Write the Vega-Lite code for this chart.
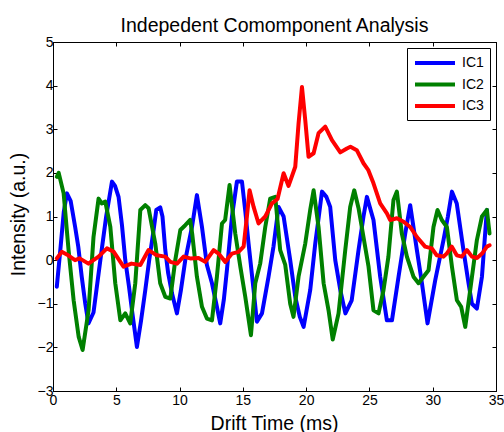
{
"$schema":"https://vega.github.io/schema/vega-lite/v6.json",
"width":443,"height":349,
"autosize":{"type":"none"},
"padding":{"left":53,"top":42,"right":8,"bottom":41},
"background":"white",
"title":{"text":"Indepedent Comomponent Analysis","font":"Liberation Sans","fontSize":19.5,"fontWeight":"normal","color":"black","offset":-16,"baseline":"alphabetic"},
"datasets":{
"ic":[
{"s":"IC1","t":0.3,"v":-0.61},{"s":"IC1","t":0.6,"v":0.3},{"s":"IC1","t":0.85,"v":1.1},{"s":"IC1","t":1.1,"v":1.53},{"s":"IC1","t":1.4,"v":1.35},{"s":"IC1","t":1.75,"v":0.76},{"s":"IC1","t":2.0,"v":0.3},{"s":"IC1","t":2.27,"v":-0.38},{"s":"IC1","t":2.55,"v":-1.0},{"s":"IC1","t":2.8,"v":-1.45},{"s":"IC1","t":3.2,"v":-1.2},{"s":"IC1","t":3.74,"v":0},{"s":"IC1","t":4.2,"v":1.0},{"s":"IC1","t":4.66,"v":1.8},{"s":"IC1","t":4.9,"v":1.7},{"s":"IC1","t":5.18,"v":1.45},{"s":"IC1","t":5.45,"v":0.8},{"s":"IC1","t":5.71,"v":0},{"s":"IC1","t":6.0,"v":-0.6},{"s":"IC1","t":6.24,"v":-1.15},{"s":"IC1","t":6.63,"v":-1.99},{"s":"IC1","t":6.95,"v":-1.4},{"s":"IC1","t":7.29,"v":-0.69},{"s":"IC1","t":7.6,"v":0},{"s":"IC1","t":7.95,"v":0.69},{"s":"IC1","t":8.16,"v":1.15},{"s":"IC1","t":8.47,"v":1.21},{"s":"IC1","t":8.65,"v":1.0},{"s":"IC1","t":8.87,"v":0.23},{"s":"IC1","t":9.1,"v":-0.3},{"s":"IC1","t":9.4,"v":-0.76},{"s":"IC1","t":9.79,"v":-1.22},{"s":"IC1","t":10.1,"v":-0.7},{"s":"IC1","t":10.45,"v":0},{"s":"IC1","t":10.98,"v":0.76},{"s":"IC1","t":11.37,"v":1.49},{"s":"IC1","t":11.77,"v":0.76},{"s":"IC1","t":12.16,"v":-0.11},{"s":"IC1","t":12.56,"v":-0.53},{"s":"IC1","t":12.9,"v":-1.0},{"s":"IC1","t":13.21,"v":-1.45},{"s":"IC1","t":13.5,"v":-0.9},{"s":"IC1","t":13.74,"v":-0.23},{"s":"IC1","t":14.14,"v":1.0},{"s":"IC1","t":14.53,"v":1.8},{"s":"IC1","t":14.93,"v":1.8},{"s":"IC1","t":15.2,"v":1.1},{"s":"IC1","t":15.45,"v":0.38},{"s":"IC1","t":15.85,"v":-0.69},{"s":"IC1","t":16.11,"v":-1.41},{"s":"IC1","t":16.51,"v":-1.22},{"s":"IC1","t":17.03,"v":-0.38},{"s":"IC1","t":17.42,"v":0.31},{"s":"IC1","t":17.82,"v":1.22},{"s":"IC1","t":18.22,"v":1.0},{"s":"IC1","t":18.74,"v":0},{"s":"IC1","t":19.14,"v":-0.84},{"s":"IC1","t":19.5,"v":-1.3},{"s":"IC1","t":19.8,"v":-1.53},{"s":"IC1","t":20.32,"v":-0.69},{"s":"IC1","t":20.72,"v":0.38},{"s":"IC1","t":21.0,"v":1.0},{"s":"IC1","t":21.25,"v":1.57},{"s":"IC1","t":21.6,"v":1.45},{"s":"IC1","t":21.9,"v":1.22},{"s":"IC1","t":22.3,"v":0},{"s":"IC1","t":22.7,"v":-0.69},{"s":"IC1","t":23.1,"v":-1.22},{"s":"IC1","t":23.6,"v":-0.92},{"s":"IC1","t":24.14,"v":0.23},{"s":"IC1","t":24.53,"v":1.0},{"s":"IC1","t":24.8,"v":1.45},{"s":"IC1","t":25.32,"v":0.92},{"s":"IC1","t":25.85,"v":-0.38},{"s":"IC1","t":26.38,"v":-1.38},{"s":"IC1","t":26.78,"v":-1.38},{"s":"IC1","t":27.3,"v":-0.38},{"s":"IC1","t":27.83,"v":0.61},{"s":"IC1","t":28.22,"v":1.26},{"s":"IC1","t":28.75,"v":0.23},{"s":"IC1","t":29.15,"v":-0.53},{"s":"IC1","t":29.59,"v":-1.45},{"s":"IC1","t":30.2,"v":-0.46},{"s":"IC1","t":30.85,"v":0.46},{"s":"IC1","t":31.2,"v":1.0},{"s":"IC1","t":31.52,"v":1.57},{"s":"IC1","t":31.9,"v":1.3},{"s":"IC1","t":32.43,"v":0.23},{"s":"IC1","t":32.83,"v":-0.53},{"s":"IC1","t":33.1,"v":-1.0},{"s":"IC1","t":33.49,"v":-1.11},{"s":"IC1","t":33.89,"v":-0.38},{"s":"IC1","t":34.28,"v":1.15},
{"s":"IC2","t":0.3,"v":1.91},{"s":"IC2","t":0.45,"v":2.0},{"s":"IC2","t":0.84,"v":1.53},{"s":"IC2","t":1.23,"v":0.23},{"s":"IC2","t":1.63,"v":-0.92},{"s":"IC2","t":2.03,"v":-1.76},{"s":"IC2","t":2.34,"v":-2.06},{"s":"IC2","t":2.81,"v":-1.15},{"s":"IC2","t":3.2,"v":0.53},{"s":"IC2","t":3.6,"v":1.41},{"s":"IC2","t":3.85,"v":1.3},{"s":"IC2","t":4.13,"v":1.34},{"s":"IC2","t":4.53,"v":0.76},{"s":"IC2","t":4.92,"v":-0.53},{"s":"IC2","t":5.32,"v":-1.38},{"s":"IC2","t":5.71,"v":-1.22},{"s":"IC2","t":6.1,"v":-1.45},{"s":"IC2","t":6.5,"v":-0.53},{"s":"IC2","t":6.9,"v":1.15},{"s":"IC2","t":7.29,"v":1.26},{"s":"IC2","t":7.55,"v":1.19},{"s":"IC2","t":8.08,"v":0.38},{"s":"IC2","t":8.47,"v":-0.53},{"s":"IC2","t":8.87,"v":-0.84},{"s":"IC2","t":9.27,"v":-0.88},{"s":"IC2","t":9.66,"v":0},{"s":"IC2","t":10.06,"v":0.69},{"s":"IC2","t":10.45,"v":0.8},{"s":"IC2","t":10.84,"v":0.92},{"s":"IC2","t":11.0,"v":0.6},{"s":"IC2","t":11.37,"v":-0.38},{"s":"IC2","t":11.77,"v":-1.07},{"s":"IC2","t":12.16,"v":-1.34},{"s":"IC2","t":12.56,"v":-1.38},{"s":"IC2","t":12.95,"v":-0.38},{"s":"IC2","t":13.35,"v":0.84},{"s":"IC2","t":13.6,"v":0.92},{"s":"IC2","t":13.95,"v":1.72},{"s":"IC2","t":14.4,"v":0.61},{"s":"IC2","t":14.8,"v":-0.15},{"s":"IC2","t":15.19,"v":-0.84},{"s":"IC2","t":15.64,"v":-1.72},{"s":"IC2","t":15.98,"v":-0.53},{"s":"IC2","t":16.37,"v":-0.08},{"s":"IC2","t":16.77,"v":0.76},{"s":"IC2","t":17.16,"v":1.41},{"s":"IC2","t":17.56,"v":1.45},{"s":"IC2","t":17.95,"v":0.23},{"s":"IC2","t":18.35,"v":-0.11},{"s":"IC2","t":18.74,"v":-1.0},{"s":"IC2","t":19.0,"v":-1.3},{"s":"IC2","t":19.4,"v":-0.38},{"s":"IC2","t":19.93,"v":0.38},{"s":"IC2","t":20.32,"v":1.15},{"s":"IC2","t":20.59,"v":1.6},{"s":"IC2","t":20.98,"v":0.76},{"s":"IC2","t":21.38,"v":-0.53},{"s":"IC2","t":21.77,"v":-1.15},{"s":"IC2","t":22.1,"v":-1.82},{"s":"IC2","t":22.56,"v":-1.22},{"s":"IC2","t":23.09,"v":0.23},{"s":"IC2","t":23.48,"v":1.22},{"s":"IC2","t":23.8,"v":1.6},{"s":"IC2","t":24.14,"v":1.19},{"s":"IC2","t":24.53,"v":0.53},{"s":"IC2","t":24.93,"v":-0.15},{"s":"IC2","t":25.32,"v":-1.15},{"s":"IC2","t":25.72,"v":-1.22},{"s":"IC2","t":26.11,"v":-0.69},{"s":"IC2","t":26.5,"v":0.08},{"s":"IC2","t":26.9,"v":1.38},{"s":"IC2","t":27.17,"v":1.57},{"s":"IC2","t":27.56,"v":0.61},{"s":"IC2","t":27.96,"v":0.08},{"s":"IC2","t":28.48,"v":-0.38},{"s":"IC2","t":28.88,"v":-0.53},{"s":"IC2","t":29.27,"v":-0.38},{"s":"IC2","t":29.67,"v":-0.23},{"s":"IC2","t":30.06,"v":0.76},{"s":"IC2","t":30.38,"v":1.15},{"s":"IC2","t":30.72,"v":0.92},{"s":"IC2","t":31.12,"v":0.76},{"s":"IC2","t":31.52,"v":-0.15},{"s":"IC2","t":31.91,"v":-0.92},{"s":"IC2","t":32.25,"v":-1.07},{"s":"IC2","t":32.57,"v":-1.53},{"s":"IC2","t":32.96,"v":-0.69},{"s":"IC2","t":33.49,"v":0.46},{"s":"IC2","t":33.89,"v":1.0},{"s":"IC2","t":34.28,"v":1.15},{"s":"IC2","t":34.49,"v":0.61},
{"s":"IC3","t":0.3,"v":0.04},{"s":"IC3","t":0.69,"v":0.19},{"s":"IC3","t":1.2,"v":0.11},{"s":"IC3","t":1.74,"v":0},{"s":"IC3","t":2.1,"v":0.04},{"s":"IC3","t":2.8,"v":-0.08},{"s":"IC3","t":3.6,"v":0.08},{"s":"IC3","t":4.26,"v":0.27},{"s":"IC3","t":4.8,"v":0.19},{"s":"IC3","t":5.57,"v":-0.15},{"s":"IC3","t":6.2,"v":-0.08},{"s":"IC3","t":6.9,"v":-0.11},{"s":"IC3","t":7.55,"v":0.23},{"s":"IC3","t":8.2,"v":0.11},{"s":"IC3","t":8.87,"v":0.08},{"s":"IC3","t":9.27,"v":-0.04},{"s":"IC3","t":9.8,"v":-0.08},{"s":"IC3","t":10.32,"v":0.08},{"s":"IC3","t":10.84,"v":0.04},{"s":"IC3","t":11.5,"v":0.05},{"s":"IC3","t":12.03,"v":-0.04},{"s":"IC3","t":12.69,"v":0.23},{"s":"IC3","t":13.08,"v":0.15},{"s":"IC3","t":13.61,"v":-0.04},{"s":"IC3","t":14.14,"v":0.15},{"s":"IC3","t":14.66,"v":0.19},{"s":"IC3","t":15.06,"v":0.31},{"s":"IC3","t":15.32,"v":1.0},{"s":"IC3","t":15.53,"v":1.6},{"s":"IC3","t":15.85,"v":1.22},{"s":"IC3","t":16.24,"v":0.84},{"s":"IC3","t":16.77,"v":1.0},{"s":"IC3","t":17.3,"v":1.3},{"s":"IC3","t":17.74,"v":1.4},{"s":"IC3","t":18.22,"v":1.99},{"s":"IC3","t":18.61,"v":1.7},{"s":"IC3","t":19.14,"v":2.14},{"s":"IC3","t":19.4,"v":3.13},{"s":"IC3","t":19.67,"v":3.97},{"s":"IC3","t":19.93,"v":3.21},{"s":"IC3","t":20.19,"v":2.37},{"s":"IC3","t":20.59,"v":2.45},{"s":"IC3","t":20.98,"v":2.91},{"s":"IC3","t":21.51,"v":3.06},{"s":"IC3","t":22.04,"v":2.75},{"s":"IC3","t":22.7,"v":2.47},{"s":"IC3","t":23.22,"v":2.56},{"s":"IC3","t":23.5,"v":2.6},{"s":"IC3","t":24.0,"v":2.52},{"s":"IC3","t":24.53,"v":2.22},{"s":"IC3","t":24.9,"v":2.07},{"s":"IC3","t":25.32,"v":1.76},{"s":"IC3","t":25.85,"v":1.3},{"s":"IC3","t":26.38,"v":1.07},{"s":"IC3","t":26.64,"v":0.92},{"s":"IC3","t":27.17,"v":0.96},{"s":"IC3","t":27.7,"v":0.88},{"s":"IC3","t":28.22,"v":0.76},{"s":"IC3","t":28.75,"v":0.53},{"s":"IC3","t":29.4,"v":0.31},{"s":"IC3","t":29.93,"v":0.27},{"s":"IC3","t":30.32,"v":0.11},{"s":"IC3","t":30.85,"v":0.08},{"s":"IC3","t":31.1,"v":0.15},{"s":"IC3","t":31.5,"v":0.31},{"s":"IC3","t":31.9,"v":0.11},{"s":"IC3","t":32.3,"v":0.08},{"s":"IC3","t":32.7,"v":0.23},{"s":"IC3","t":33.1,"v":0.08},{"s":"IC3","t":33.5,"v":0.05},{"s":"IC3","t":33.9,"v":0.15},{"s":"IC3","t":34.28,"v":0.31},{"s":"IC3","t":34.5,"v":0.34}
]},
"data":{"name":"ic"},
"layer":[
{"mark":{"type":"line","strokeWidth":4,"interpolate":"linear","strokeJoin":"round","strokeCap":"round"},
 "encoding":{
  "x":{"field":"t","type":"quantitative","scale":{"domain":[0,35],"nice":false,"zero":false},
       "axis":{"orient":"bottom","values":[0,5,10,15,20,25,30,35],"title":"Drift Time (ms)","titleX":221,"titleY":38,"titleBaseline":"alphabetic","labelPadding":6}},
  "y":{"field":"v","type":"quantitative","scale":{"domain":[-3,5],"nice":false,"zero":false},
       "axis":{"orient":"left","values":[-3,-2,-1,0,1,2,3,4,5],"title":"Intensity (a.u.)","titleX":-29,"titleY":172,"titleBaseline":"alphabetic","titleAngle":-90,"labelPadding":4}},
  "color":{"field":"s","type":"nominal","scale":{"domain":["IC1","IC2","IC3"],"range":["#0000ff","#008000","#ff0000"]},
       "legend":{"title":null,"orient":"top-right","offset":6,"strokeColor":"black","fillColor":"white","padding":6,"symbolType":"M-1,0H4.714","symbolSize":196,"symbolStrokeWidth":4,"labelFontSize":14,"labelFont":"Liberation Sans","labelColor":"black","labelOffset":31,"rowPadding":4.5,"cornerRadius":0}}
 }},
{"mark":{"type":"point","opacity":0},
 "encoding":{
  "x":{"field":"t","type":"quantitative","scale":{"domain":[0,35],"nice":false,"zero":false},
       "axis":{"orient":"top","values":[0,5,10,15,20,25,30,35],"labels":false,"title":null}},
  "y":{"field":"v","type":"quantitative","scale":{"domain":[-3,5],"nice":false,"zero":false},
       "axis":{"orient":"right","values":[-3,-2,-1,0,1,2,3,4,5],"labels":false,"title":null}}
 }}
],
"resolve":{"axis":{"x":"independent","y":"independent"}},
"config":{
 "view":{"stroke":"black","strokeWidth":1},
 "axis":{"grid":false,"domainColor":"black","tickColor":"black","tickSize":-4,"tickWidth":1,"labelColor":"black","labelFont":"Liberation Sans","labelFontSize":14,"labelFlush":false,"labelOverlap":false,"titleFont":"Liberation Sans","titleFontSize":19.5,"titleFontWeight":"normal","titleColor":"black"}
}
}
